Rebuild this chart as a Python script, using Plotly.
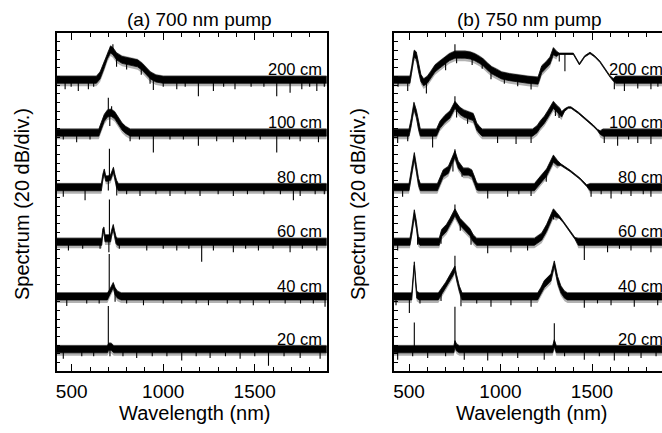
import numpy as np
import plotly.graph_objects as go

# ---------------- data ----------------
# wavelength in nm, level in dB above each trace's own baseline, noise half-width in dB
LABELS = ["20 cm", "40 cm", "60 cm", "80 cm", "100 cm", "200 cm"]
BASELINES = [25, 86, 149, 212, 275, 336]   # dB offset of each trace (20 dB/div display)
TITLES = ["(a) 700 nm pump", "(b) 750 nm pump"]
XTICKS = [500, 1000, 1500]

# ---- (a) 700 nm pump ----
A20_ENV = [(418, 0, 4), (695, 0, 4), (702, 3, 4), (715, 3, 4), (730, 0, 4), (1893, 0, 4)]
A20_SPK = [(700, 48), (454, -11), (555, -8), (620, -8), (709, -11), (780, -8), (855, -10), (940, -8),
           (1020, -8), (1101, -13), (1180, -8), (1256, -10), (1340, -8), (1420, -11), (1500, -8),
           (1575, -19), (1660, -8), (1748, -10), (1857, -11)]

A40_ENV = [(418, 0, 4), (695, 0, 4), (705, 3, 4), (715, 8, 4), (727, 13, 3), (737, 6, 4), (750, 2, 4),
           (770, 0, 4), (1893, 0, 4)]
A40_SPK = [(705, 46), (473, -11), (582, -8), (650, -8), (737, -12), (800, -8), (892, -10), (1000, -8),
           (1101, -8), (1180, -8), (1247, -10), (1350, -8), (1420, -8), (1492, -10), (1580, -8),
           (1666, -8), (1750, -8), (1820, -8), (1884, -12)]

A60_ENV = [(418, 0, 4), (664, 0, 4), (670, 12, 3), (676, 14, 3), (682, 4, 4), (712, 4, 4), (720, 12, 3),
           (727, 17, 3), (734, 10, 3), (742, 2, 4), (750, 0, 4), (1893, 0, 4)]
A60_SPK = [(706, 45), (703, -16), (482, -10), (560, -8), (655, -8), (760, -8), (910, -10), (1000, -8),
           (1074, -10), (1140, -8), (1210, -23), (1274, -10), (1383, -12), (1450, -8), (1520, -10),
           (1600, -8), (1693, -12), (1760, -8), (1839, -10)]

A80_ENV = [(418, 0, 4), (662, 0, 4), (670, 12, 3), (678, 18, 3), (686, 10, 3), (698, 10, 3), (712, 11, 3),
           (722, 17, 3), (728, 20, 3), (736, 12, 3), (745, 4, 4), (755, 0, 4), (1893, 0, 4)]
A80_SPK = [(706, 34), (454, -11), (573, -15), (700, -14), (746, -13), (800, -8), (873, -10), (960, -8),
           (1037, -10), (1120, -8), (1201, -10), (1300, -8), (1383, -10), (1460, -8), (1550, -8),
           (1640, -8), (1711, -15), (1748, -10), (1830, -8), (1880, -8)]

A100_ENV = [(418, 0, 4), (648, 0, 4), (662, 8, 4), (678, 17, 4), (695, 22, 4), (715, 23, 4), (735, 20, 4),
            (755, 13, 4), (775, 7, 4), (795, 3, 4), (820, 0, 4), (1893, 0, 4)]
A100_SPK = [(700, 18), (718, 8), (454, -8), (527, -11), (600, -8), (708, -15), (819, -10), (870, -8),
            (946, -23), (1037, -8), (1110, -8), (1192, -15), (1292, -10), (1383, -11), (1450, -8),
            (1530, -8), (1620, -23), (1690, -8), (1748, -10), (1848, -11)]

A200_ENV = [(418, 0, 4), (635, 0, 4), (655, 5, 4), (675, 16, 4), (695, 28, 4), (712, 35, 4), (725, 33, 4),
            (745, 27, 4), (775, 23, 4), (820, 21, 4), (860, 19, 4), (885, 15, 4), (910, 10, 4), (930, 5, 4),
            (960, 1.5, 4), (1000, 0, 4), (1893, 0, 4)]
A200_SPK = [(725, 8), (464, -11), (497, -8), (536, -13), (591, -11), (620, -8), (745, -12), (800, -10),
            (880, -10), (928, -10), (946, -15), (1000, -8), (1074, -11), (1120, -8), (1192, -19),
            (1274, -13), (1330, -8), (1392, -11), (1480, -8), (1550, -8), (1620, -19), (1693, -15),
            (1757, -11), (1800, -8), (1839, -13), (1880, -8)]

# ---- (b) 750 nm pump ----
B20_ENV = [(418, 0, 4), (745, 0, 4), (751, 6, 4), (760, 2, 4), (775, 0, 4), (1285, 0, 4), (1294, 7, 4),
           (1305, 0, 4), (1882, 0, 4)]
B20_SPK = [(529, 31), (751, 43), (1294, 23), (438, -12), (520, -8), (602, -10), (700, -8), (802, -12),
           (930, -13), (1010, -8), (1094, -10), (1239, -12), (1350, -8), (1458, -12), (1540, -8),
           (1622, -13), (1700, -8), (1768, -10), (1850, -8)]

B40_ENV = [(418, 0, 4), (515, 0, 4), (529, 38, 2), (542, 2, 4), (555, 0, 4), (660, 0, 4), (700, 13, 3),
           (740, 27, 3), (751, 32, 3), (760, 22, 3), (775, 9, 3), (790, 0, 4), (1203, 0, 4), (1220, 6, 4),
           (1239, 14, 4), (1276, 22, 4), (1294, 38, 3), (1312, 19, 4), (1330, 8, 4), (1350, 2, 4),
           (1366, 0, 4), (1882, 0, 4)]
B40_SPK = [(751, 15), (429, -10), (502, -19), (560, -8), (675, -10), (784, -15), (870, -8), (948, -12),
           (1057, -10), (1167, -12), (1458, -13), (1530, -8), (1604, -10), (1731, -12), (1859, -10)]

B60_ENV = [(418, 0, 4), (505, 0, 4), (515, 12, 4), (529, 33, 4), (540, 20, 4), (551, 2, 4), (560, 0, 4),
           (665, 0, 4), (678, 10, 4), (705, 16, 4), (724, 23, 4), (751, 34, 4), (779, 23, 4), (806, 17, 4),
           (833, 11, 4), (851, 4, 4), (870, 0, 4), (1185, 0, 4), (1225, 6, 4), (1252, 16, 4), (1289, 34, 4),
           (1305, 31, 3), (1320, 29, 1.5), (1343, 23, 0.8), (1380, 12, 0.8), (1407, 4, 1), (1425, 0, 4),
           (1882, 0, 4)]
B60_SPK = [(751, 9), (438, -10), (547, -12), (675, -10), (780, -10), (839, -12), (930, -13), (1057, -12),
           (1148, -10), (1290, -8), (1458, -21), (1585, -12), (1650, -8), (1713, -10), (1822, -12)]

B80_ENV = [(418, 0, 4), (500, 0, 4), (512, 15, 4), (529, 36, 4), (540, 22, 4), (552, 6, 4), (562, 0, 4),
           (655, 0, 4), (669, 7, 4), (687, 16, 4), (715, 20, 4), (733, 30, 4), (751, 38, 4), (769, 26, 4),
           (797, 18, 4), (824, 18, 4), (843, 16, 4), (858, 8, 4), (870, 1, 4), (880, 0, 4), (1185, 0, 4),
           (1216, 8, 4), (1252, 17, 4), (1289, 33, 4), (1310, 28, 3), (1330, 26, 1), (1380, 19, 0.8),
           (1434, 10, 0.8), (1471, 2, 1), (1489, 0, 4), (1882, 0, 4)]
B80_SPK = [(751, 6), (465, -11), (740, -15), (790, -8), (930, -13), (1039, -11), (1100, -8), (1167, -10),
           (1250, -10), (1495, -11), (1550, -8), (1604, -13), (1660, -8), (1713, -10), (1780, -8), (1822, -11)]

B100_ENV = [(418, 0, 4), (500, 0, 4), (512, 12, 4), (527, 31, 4), (540, 22, 4), (552, 8, 4), (562, 0, 4),
            (650, 0, 4), (669, 9, 4), (697, 16, 4), (724, 21, 4), (751, 32, 4), (765, 28, 4), (779, 25, 4),
            (800, 22, 4), (824, 20, 4), (851, 18, 4), (862, 12, 4), (870, 7, 4), (885, 3, 4), (900, 0, 4),
            (1175, 0, 4), (1200, 4, 4), (1216, 9, 4), (1240, 15, 4), (1261, 22, 4), (1289, 32, 4),
            (1305, 28, 4), (1325, 24, 4), (1334, 21, 3), (1350, 26, 1.5), (1370, 29, 0.8), (1385, 29, 0.8),
            (1425, 23, 0.8), (1471, 15, 0.8), (1507, 8, 0.8), (1530, 3, 0.8), (1545, 0, 2), (1560, 0, 4),
            (1882, 0, 4)]
B100_SPK = [(751, 10), (438, -12), (493, -10), (629, -17), (760, -12), (820, -10), (984, -12), (1085, -13),
            (1167, -12), (1300, -10), (1320, -8), (1567, -12), (1640, -15), (1700, -8), (1750, -12),
            (1822, -13)]

B200_ENV = [(418, 0, 4), (505, 0, 4), (515, 12, 4), (528, 30, 4), (540, 28, 4), (552, 14, 4), (565, 2, 4),
            (580, -3, 4), (600, 0, 4), (620, 6, 4), (642, 13, 4), (665, 17, 4), (687, 21, 4), (720, 26, 4),
            (751, 29, 4), (780, 29, 4), (806, 29, 4), (835, 28, 4), (860, 26, 4), (885, 23, 4), (906, 20, 4),
            (930, 15, 4), (952, 11, 4), (980, 8, 4), (1006, 5, 4), (1050, 3, 4), (1097, 1.5, 4), (1150, 0, 4),
            (1205, -1, 4), (1210, 2, 4), (1225, 12, 4), (1250, 17, 4), (1270, 22, 4), (1289, 33, 4),
            (1305, 30, 3), (1320, 30, 0.8), (1398, 30, 0.8), (1431, 18, 0.8), (1460, 27, 0.8),
            (1489, 31, 0.8), (1515, 27, 0.8), (1543, 21, 0.8), (1570, 12, 0.8), (1598, 4, 0.8),
            (1616, 0, 1.5), (1630, 0, 4), (1882, 0, 4)]
B200_SPK = [(751, 12), (1321, -9), (1352, -20), (440, -8), (493, -13), (595, -15), (700, -12), (760, -10),
            (845, -10), (900, -8), (948, -11), (1021, -9), (1094, -9), (1167, -11), (1622, -11),
            (1677, -13), (1750, -10), (1822, -11), (1860, -8)]

PANEL_A = [(A20_ENV, A20_SPK), (A40_ENV, A40_SPK), (A60_ENV, A60_SPK), (A80_ENV, A80_SPK),
           (A100_ENV, A100_SPK), (A200_ENV, A200_SPK)]
PANEL_B = [(B20_ENV, B20_SPK), (B40_ENV, B40_SPK), (B60_ENV, B60_SPK), (B80_ENV, B80_SPK),
           (B100_ENV, B100_SPK), (B200_ENV, B200_SPK)]

# ---------------- figure ----------------
W, H = 662, 433
PT, PB = 33, 371            # plot area top/bottom (px)
AX = (56.7, 326.7)          # panel (a) x extent (px)
BX = (394.0, 662.0)         # panel (b) visible x extent (px)
FONT = "Liberation Sans, Arial, Helvetica, sans-serif"

fig = go.Figure()


def band(xs, lo, hi, color, xa, ya, lw=0.0):
    px = np.concatenate([xs, xs[::-1]])
    py_ = np.concatenate([hi, lo[::-1]])
    fig.add_trace(go.Scatter(x=px, y=py_, mode="lines", fill="toself", fillcolor=color,
                             line=dict(color=color, width=lw), xaxis=xa, yaxis=ya,
                             hoverinfo="skip"))


def add_trace(env, spk, base, xa, ya):
    wl = np.array([p[0] for p in env], float)
    lv = np.array([p[1] for p in env], float) + base
    nz = np.array([p[2] for p in env], float)
    fringe = np.where(nz >= 2, 1.0, 0.0)
    # grainy fringes above / below the solid noise band
    band(wl, lv - nz - 3.5 * fringe, lv - nz, "rgba(0,0,0,0.3)", xa, ya)
    band(wl, lv + nz, lv + nz + 1.2 * fringe, "rgba(0,0,0,0.3)", xa, ya)
    band(wl, lv - nz, lv + nz, "black", xa, ya, lw=0.8)
    sx, sy = [], []
    for w, d in spk:
        y0 = float(np.interp(w, wl, lv))
        sx += [w, w, None]
        sy += [y0, y0 + d, None]
    fig.add_trace(go.Scatter(x=sx, y=sy, mode="lines", line=dict(color="black", width=1.1),
                             xaxis=xa, yaxis=ya, hoverinfo="skip"))


for (env, spk), b in zip(PANEL_A, BASELINES):
    add_trace(env, spk, b, "x", "y")
for (env, spk), b in zip(PANEL_B, BASELINES):
    add_trace(env, spk, b, "x2", "y2")

xcommon = dict(tickvals=XTICKS, ticks="inside", ticklen=7, tickwidth=1.2, tickcolor="black",
               showline=True, linewidth=1.5, linecolor="black", mirror="allticks",
               showgrid=False, zeroline=False, ticklabelstandoff=2,
               minor=dict(dtick=100, tick0=0, ticks="inside", ticklen=4, tickwidth=1, tickcolor="black"),
               tickfont=dict(family=FONT, size=19, color="black"))
ycommon = dict(range=[0, 390], tick0=0, dtick=10, ticks="inside", ticklen=4, tickwidth=1,
               tickcolor="black", showticklabels=False, showline=True, linewidth=1.5,
               linecolor="black", showgrid=False, zeroline=False, domain=[0, 1])

fig.update_layout(
    width=W, height=H, showlegend=False,
    margin=dict(l=0, r=0, t=PT, b=H - PB, pad=0),
    paper_bgcolor="white", plot_bgcolor="white",
    xaxis=dict(domain=[AX[0] / W, AX[1] / W], range=[418, 1893], anchor="y", **xcommon),
    xaxis2=dict(domain=[BX[0] / W, 1.0], range=[418, 418 + (BX[1] - BX[0]) / 0.183], anchor="y2",
                **xcommon),
    yaxis=dict(anchor="x", mirror=True, **ycommon),
    yaxis2=dict(anchor="x2", mirror=False, **ycommon),
)


def py(ypx):
    return (PB - ypx) / (PB - PT)


ann = []
# panel titles
for t, cx in zip(TITLES, [(AX[0] + AX[1]) / 2 + 8, (BX[0] + 664) / 2]):
    ann.append(dict(text=t, x=cx / W, y=py(19), xref="paper", yref="paper", showarrow=False,
                    xanchor="center", yanchor="middle", font=dict(family=FONT, size=19, color="black")))
# x titles
for cx in [(AX[0] + AX[1]) / 2 + 3, (BX[0] + 664) / 2 + 3]:
    ann.append(dict(text="Wavelength (nm)", x=cx / W, y=py(413), xref="paper", yref="paper",
                    showarrow=False, xanchor="center", yanchor="middle",
                    font=dict(family=FONT, size=20, color="black")))
# y titles
for cx in [22, 358]:
    ann.append(dict(text="Spectrum (20 dB/div.)", x=cx / W, y=py(204), xref="paper", yref="paper",
                    showarrow=False, textangle=-90, xanchor="center", yanchor="middle",
                    font=dict(family=FONT, size=20, color="black")))
# trace labels
for lab, b in zip(LABELS, BASELINES):
    ann.append(dict(text=lab, x=1876, y=b + 12, xref="x", yref="y", showarrow=False,
                    xanchor="right", yanchor="middle", font=dict(family=FONT, size=16.5, color="black")))
    ann.append(dict(text=lab, x=665.0 / W, y=b + 12, xref="paper", yref="y2", showarrow=False,
                    xanchor="right", yanchor="middle", font=dict(family=FONT, size=16.5, color="black")))
fig.update_layout(annotations=ann)

fig.write_html("out.html", config={"displayModeBar": False},
               post_script="document.body.style.margin='0';document.body.style.overflow='hidden';")
